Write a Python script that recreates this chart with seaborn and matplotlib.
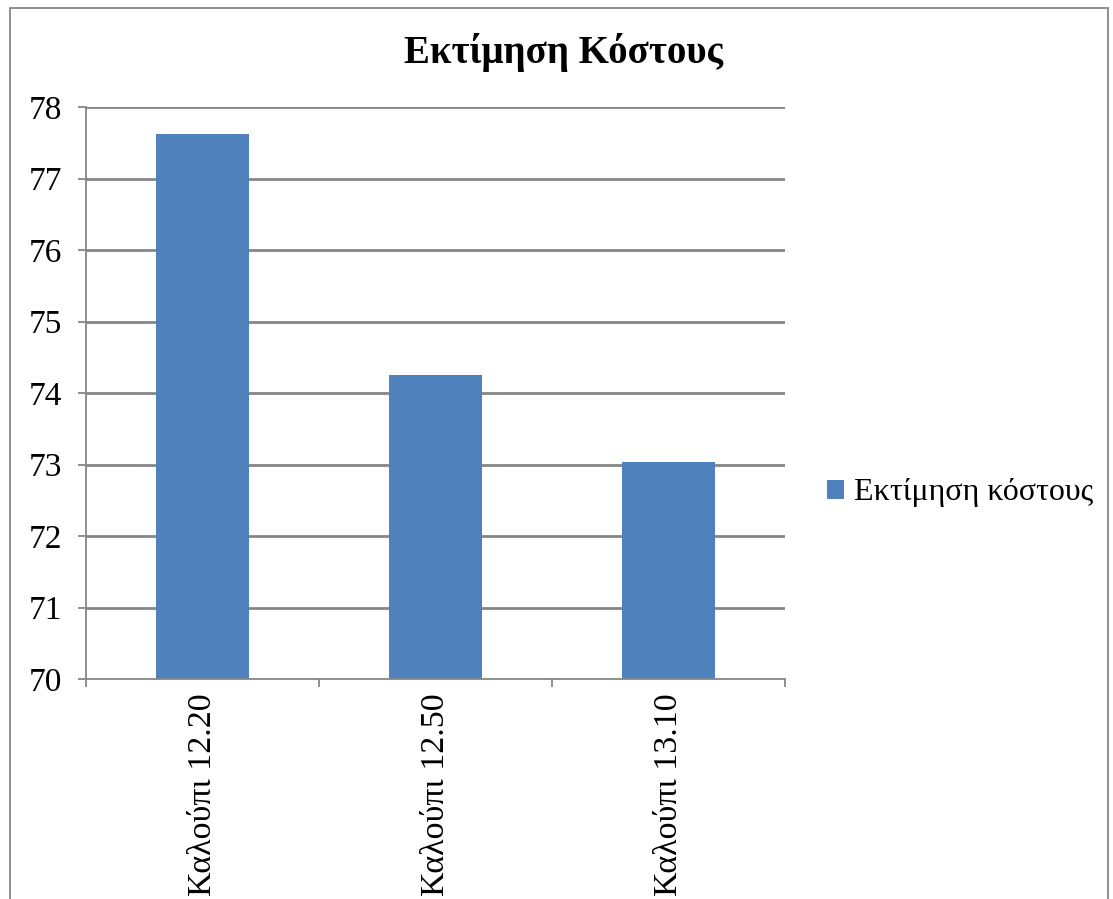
import matplotlib
matplotlib.use("Agg")
import matplotlib.pyplot as plt
from matplotlib.patches import Rectangle, Patch
import seaborn as sns
import pandas as pd

# Chart data
categories = ["Καλούπι 12.20", "Καλούπι 12.50", "Καλούπι 13.10"]
costs = [77.62, 74.25, 73.03]
series_name = "Εκτίμηση κόστους"
title = "Εκτίμηση Κόστους"
y_ticks = [70, 71, 72, 73, 74, 75, 76, 77, 78]

sns.set_theme(style="white")
plt.rcParams["font.family"] = ["Liberation Serif", "DejaVu Serif"]
plt.rcParams["text.color"] = "black"

W, H, DPI = 1113, 899, 100
fig = plt.figure(figsize=(W / DPI, H / DPI), dpi=DPI)
fig.patch.set_facecolor("white")

ax = fig.add_axes([86 / W, 1 - 679 / H, (785 - 86) / W, (679 - 107) / H])

df = pd.DataFrame({"category": categories, "cost": costs})
bar_color = "#4F81BD"
grid_color = "#868686"

sns.barplot(data=df, x="category", y="cost", color=bar_color, width=0.395,
            saturation=1, ax=ax, zorder=3, edgecolor="none")

ax.set_ylim(70, 78)
ax.set_xlim(-0.5, len(categories) - 0.5)
ax.set_yticks(y_ticks)
ax.set_yticklabels([str(v) for v in y_ticks], fontsize=24)
ax.set_xlabel("")
ax.set_ylabel("")

# horizontal gridlines
for v in y_ticks[1:]:
    ax.axhline(v, color=grid_color, lw=2, zorder=1)

# axis lines
for s in ["top", "right"]:
    ax.spines[s].set_visible(False)
for s in ["left", "bottom"]:
    ax.spines[s].set_color(grid_color)
    ax.spines[s].set_linewidth(1.3)
    ax.spines[s].set_zorder(4)

ax.tick_params(axis="y", direction="out", length=6, width=1.3, color=grid_color,
               pad=11, left=True, labelcolor="black")

# category labels centred under the bars, tick marks on the category boundaries
ax.set_xticks(range(len(categories)))
ax.set_xticklabels(categories, rotation=90, fontsize=24.5, va="top", ha="center")
ax.tick_params(axis="x", which="major", length=0, pad=10, labelcolor="black")
ax.set_xticks([i - 0.5 for i in range(len(categories) + 1)], minor=True)
ax.tick_params(axis="x", which="minor", direction="out", length=6, width=1.3,
               color=grid_color, bottom=True)

fig.text(563 / W, 1 - 52 / H, title, fontsize=28, fontweight="bold",
         ha="center", va="center", color="black")

handle = Patch(facecolor=bar_color, edgecolor="none")
leg = fig.legend([handle], [series_name], loc="center left",
                 bbox_to_anchor=(798 / W, 1 - 493 / H), frameon=False, fontsize=23,
                 handlelength=0.55, handleheight=0.55, handletextpad=0.3)
for t in leg.get_texts():
    t.set_color("black")

# chart frame
fig.patches.append(Rectangle((10 / W, -0.05), (1108 - 10) / W, 1.05 - 8 / H,
                             transform=fig.transFigure, fill=False,
                             edgecolor=grid_color, lw=1.3))

fig.savefig("out.png", dpi=DPI)
